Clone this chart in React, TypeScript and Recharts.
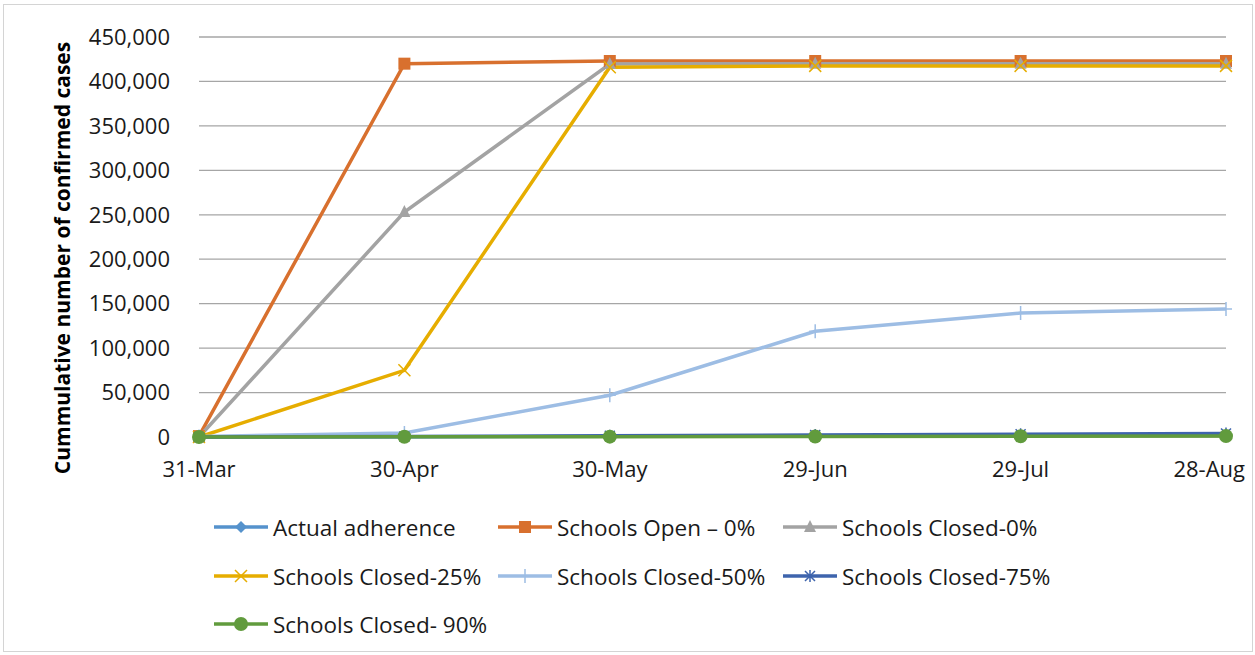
import React from 'react'
import { LineChart, Line, XAxis, YAxis, CartesianGrid } from 'recharts'

const dates = ['31-Mar', '30-Apr', '30-May', '29-Jun', '29-Jul', '28-Aug']

const actualAdherence = [0, 300, 800, 1500, 2200, 2800]
const schoolsOpen0 = [1000, 420000, 423000, 423000, 423000, 423000]
const schoolsClosed0 = [0, 253000, 419500, 420000, 420000, 420000]
const schoolsClosed25 = [0, 75000, 416000, 417500, 417500, 417500]
const schoolsClosed50 = [500, 4500, 47000, 119000, 139500, 144000]
const schoolsClosed75 = [0, 600, 1300, 2200, 3200, 4000]
const schoolsClosed90 = [0, 200, 400, 600, 800, 1000]

const yTicks = [0, 50000, 100000, 150000, 200000, 250000, 300000, 350000, 400000, 450000]

type Shape = 'diamond' | 'square' | 'triangle' | 'x' | 'plus' | 'star' | 'circle'

interface SeriesDef {
  key: string
  name: string
  color: string
  shape: Shape
  values: number[]
}

const series: SeriesDef[] = [
  { key: 'actual', name: 'Actual adherence', color: '#5592cc', shape: 'diamond', values: actualAdherence },
  { key: 'open0', name: 'Schools Open \u2013 0%', color: '#d8702e', shape: 'square', values: schoolsOpen0 },
  { key: 'closed0', name: 'Schools Closed-0%', color: '#a3a3a3', shape: 'triangle', values: schoolsClosed0 },
  { key: 'closed25', name: 'Schools Closed-25%', color: '#e6ad00', shape: 'x', values: schoolsClosed25 },
  { key: 'closed50', name: 'Schools Closed-50%', color: '#9dbde4', shape: 'plus', values: schoolsClosed50 },
  { key: 'closed75', name: 'Schools Closed-75%', color: '#3e64ad', shape: 'star', values: schoolsClosed75 },
  { key: 'closed90', name: 'Schools Closed- 90%', color: '#619b3d', shape: 'circle', values: schoolsClosed90 },
]

const chartData = dates.map((date, i) => {
  const row: Record<string, string | number> = { date }
  series.forEach((s) => {
    row[s.key] = s.values[i]
  })
  return row
})

function Marker({ shape, color, cx, cy }: { shape: Shape; color: string; cx: number; cy: number }) {
  switch (shape) {
    case 'diamond':
      return <path d={`M${cx},${cy - 6} L${cx + 6},${cy} L${cx},${cy + 6} L${cx - 6},${cy} Z`} fill={color} />
    case 'square':
      return <rect x={cx - 6} y={cy - 6} width={12} height={12} fill={color} />
    case 'triangle':
      return <path d={`M${cx},${cy - 7} L${cx + 6},${cy + 5} L${cx - 6},${cy + 5} Z`} fill={color} />
    case 'x':
      return (
        <path
          d={`M${cx - 6},${cy - 6} L${cx + 6},${cy + 6} M${cx + 6},${cy - 6} L${cx - 6},${cy + 6}`}
          stroke={color}
          strokeWidth={1.5}
        />
      )
    case 'plus':
      return <path d={`M${cx},${cy - 7} L${cx},${cy + 7} M${cx - 6},${cy} L${cx + 6},${cy}`} stroke={color} strokeWidth={1.5} />
    case 'star':
      return (
        <path
          d={`M${cx - 5},${cy - 5} L${cx + 5},${cy + 5} M${cx + 5},${cy - 5} L${cx - 5},${cy + 5} M${cx},${cy - 6} L${cx},${cy + 6}`}
          stroke={color}
          strokeWidth={1.5}
        />
      )
    case 'circle':
      return <circle cx={cx} cy={cy} r={7} fill={color} />
  }
}

function makeDot(s: SeriesDef) {
  return (props: { cx?: number; cy?: number; index?: number }) => (
    <g key={`${s.key}-${props.index}`}>
      <Marker shape={s.shape} color={s.color} cx={props.cx ?? 0} cy={props.cy ?? 0} />
    </g>
  )
}

const FONT = '"Open Sans", sans-serif'

// x tick: keep the last label inside the frame like Excel does
function XTick(props: { x?: number; y?: number; index?: number; payload?: { value: string } }) {
  const { x = 0, y = 0, index = 0, payload } = props
  const last = index === dates.length - 1
  return (
    <text
      x={last ? 1245 : x}
      y={y}
      dy="0.71em"
      textAnchor={last ? 'end' : 'middle'}
      fill="#1a1a1a"
      fontSize={22}
      fontFamily={FONT}
    >
      {payload?.value}
    </text>
  )
}

function YTitle() {
  return (
    <text
      x={62}
      y={258}
      transform="rotate(-90, 62, 258)"
      textAnchor="middle"
      dominantBaseline="central"
      fontSize={21}
      fontWeight={700}
      fill="#000"
      fontFamily={FONT}
    >
      Cummulative number of confirmed cases
    </text>
  )
}

export default function App() {
  return (
    <div style={{ position: 'absolute', left: 0, top: 0, width: 1255, height: 655, background: '#fff', fontFamily: FONT }}>
      <div
        style={{
          position: 'absolute',
          left: 3,
          top: 4,
          width: 1250,
          height: 648,
          border: '1px solid #d4d4d4',
          boxSizing: 'border-box',
        }}
      />
      <div style={{ position: 'absolute', left: 0, top: 0 }}>
        <LineChart width={1255} height={655} data={chartData} margin={{ top: 37, right: 29, bottom: 178, left: 0 }}>
          <CartesianGrid horizontal vertical={false} stroke="#a6a6a6" strokeWidth={1.3} />
          <XAxis
            dataKey="date"
            axisLine={false}
            tickLine={false}
            height={40}
            tickMargin={18}
            tick={<XTick />}
            interval={0}
          />
          <YAxis
            domain={[0, 450000]}
            ticks={yTicks}
            width={199}
            axisLine={false}
            tickLine={false}
            tickMargin={23}
            tick={{ fill: '#1a1a1a', fontSize: 22, fontFamily: FONT }}
            tickFormatter={(v: number) => v.toLocaleString('en-US')}
            label={<YTitle />}
          />
          {series.map((s) => (
            <Line
              key={s.key}
              type="linear"
              dataKey={s.key}
              name={s.name}
              stroke={s.color}
              strokeWidth={3.5}
              dot={makeDot(s)}
              activeDot={false}
              isAnimationActive={false}
            />
          ))}
        </LineChart>
      </div>
      {series.map((s, i) => {
        const col = i % 3
        const row = Math.floor(i / 3)
        const lineLeft = [214, 498, 783][col]
        const cy = [527, 576, 624][row]
        return (
          <div
            key={s.key}
            style={{
              position: 'absolute',
              left: lineLeft,
              top: cy - 16,
              height: 32,
              display: 'flex',
              alignItems: 'center',
              whiteSpace: 'nowrap',
              fontSize: 22.5,
              color: '#1a1a1a',
            }}
          >
            <svg width={54} height={20} style={{ marginRight: 5 }}>
              <line x1={0} y1={10} x2={54} y2={10} stroke={s.color} strokeWidth={3.5} />
              <Marker shape={s.shape} color={s.color} cx={27} cy={10} />
            </svg>
            <span>{s.name}</span>
          </div>
        )
      })}
    </div>
  )
}
